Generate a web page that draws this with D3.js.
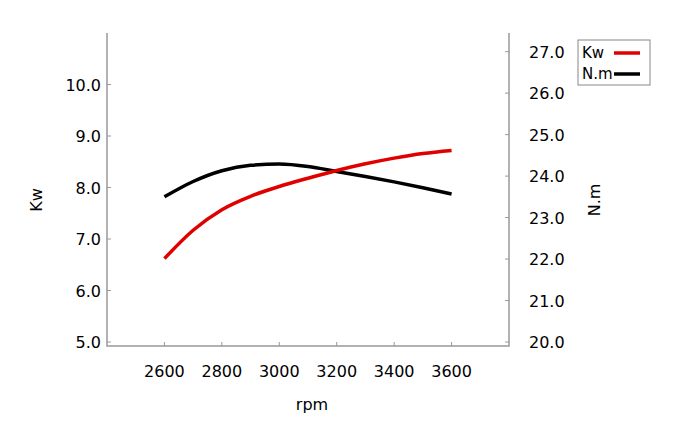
<!DOCTYPE html><html><head><meta charset="utf-8"><script src="https://cdn.jsdelivr.net/npm/d3@7"></script>
<style>body{margin:0;background:#fff}text{font-family:"DejaVu Sans",sans-serif}</style></head><body><svg id="c" width="700" height="437"></svg>
<script>
const rpm=[2600,2700,2800,2900,3000,3100,3200,3300,3400,3500,3600];
const kw=[6.62,7.17,7.57,7.83,8.02,8.18,8.33,8.46,8.57,8.66,8.72];
const nm=[23.5,23.87,24.13,24.26,24.29,24.23,24.11,23.99,23.86,23.72,23.57];
const xTicks=[2600,2800,3000,3200,3400,3600];
const kwTicks=[5,6,7,8,9,10];
const nmTicks=[20,21,22,23,24,25,26,27];
const svg=d3.select("#c");
const L=107,R=509,T=33,B=346;
const x=d3.scaleLinear().domain([2400,3800]).range([L,R]);
const yL=d3.scaleLinear().domain([5,11]).range([342,33]);
const yR=d3.scaleLinear().domain([20,27.45]).range([342,33]);
const g="#999";
svg.append("path").attr("d",`M${L},${T}V${B}H${R}V${T}`).attr("fill","none").attr("stroke",g).attr("stroke-width",1.5);
const fs="16px";
kwTicks.forEach(v=>{svg.append("line").attr("x1",L).attr("x2",L+4).attr("y1",yL(v)).attr("y2",yL(v)).attr("stroke",g);
 svg.append("text").attr("x",L-6).attr("y",yL(v)+6).attr("text-anchor","end").style("font-size",fs).text(v.toFixed(1));});
nmTicks.forEach(v=>{svg.append("line").attr("x1",R).attr("x2",R-4).attr("y1",yR(v)).attr("y2",yR(v)).attr("stroke",g);
 svg.append("text").attr("x",R+20).attr("y",yR(v)+6).style("font-size",fs).text(v.toFixed(1));});
xTicks.forEach(v=>{svg.append("line").attr("x1",x(v)).attr("x2",x(v)).attr("y1",B).attr("y2",B-4).attr("stroke",g);
 svg.append("text").attr("x",x(v)).attr("y",377).attr("text-anchor","middle").style("font-size",fs).text(v);});
svg.append("text").attr("x",312).attr("y",410).attr("text-anchor","middle").style("font-size",fs).text("rpm");
svg.append("text").attr("transform","translate(42,200) rotate(-90)").attr("text-anchor","middle").style("font-size",fs).text("Kw");
svg.append("text").attr("transform","translate(600,200) rotate(-90)").attr("text-anchor","middle").style("font-size",fs).text("N.m");
const line=(y,d)=>d3.line().x((v,i)=>x(rpm[i])).y(v=>y(v)).curve(d3.curveMonotoneX)(d);
svg.append("path").attr("d",line(yR,nm)).attr("fill","none").attr("stroke","#000").attr("stroke-width",3.5);
svg.append("path").attr("d",line(yL,kw)).attr("fill","none").attr("stroke","#e00000").attr("stroke-width",3.5);
svg.append("rect").attr("x",578).attr("y",40).attr("width",72).attr("height",45).attr("fill","#fff").attr("stroke","#888");
[["Kw","#e00000",58],["N.m","#000",79]].forEach(([t,c,y])=>{
 svg.append("text").attr("x",582).attr("y",y).style("font-size","15px").text(t);
 svg.append("line").attr("x1",614).attr("x2",640).attr("y1",y-5).attr("y2",y-5).attr("stroke",c).attr("stroke-width",3.5);});
</script></body></html>
